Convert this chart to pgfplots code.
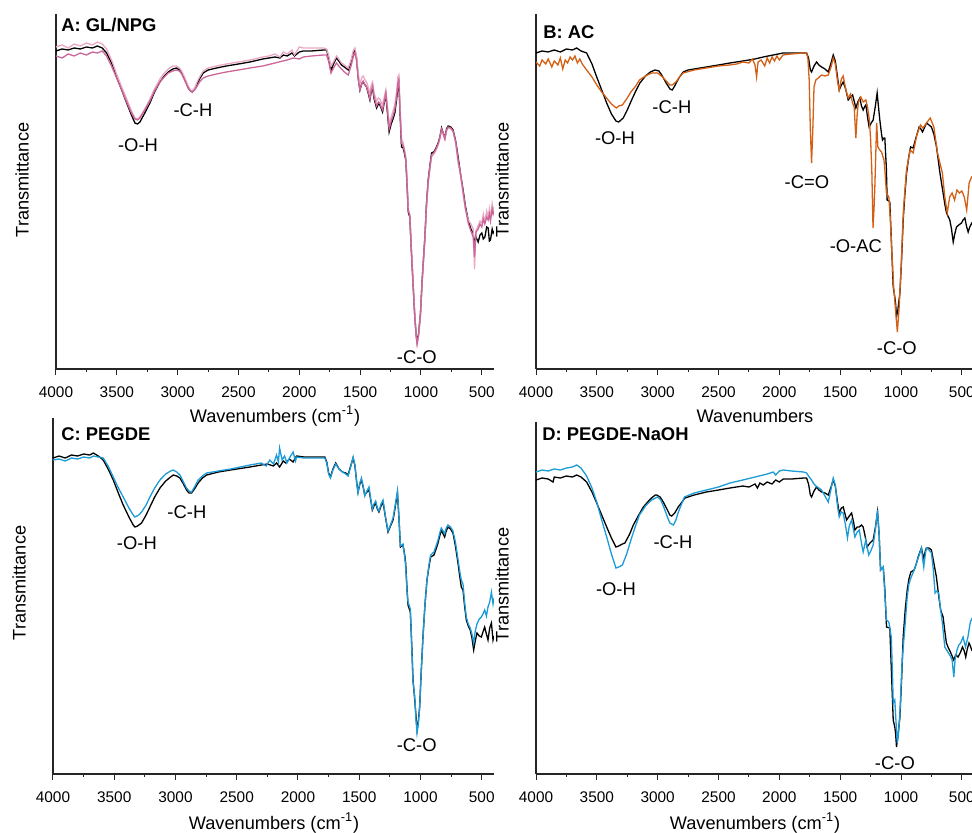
\documentclass[border=0pt]{standalone}
\usepackage{fontspec}
\setmainfont{Liberation Sans}
\usepackage{pgfplots}
\pgfplotsset{compat=1.18}

\definecolor{pinkA}{RGB}{204,102,153}
\definecolor{lpinkA}{RGB}{234,168,196}
\definecolor{orangeB}{RGB}{212,96,22}
\definecolor{blueC}{RGB}{27,155,215}

\tikzset{ann/.style={font=\fontsize{9.2}{10}\selectfont, inner sep=0pt}}
\pgfplotsset{
  ftir/.style={
    scale only axis,
    width=219pt, height=177.5pt,
    x dir=reverse, xmin=400, xmax=4000, ymin=0, ymax=355,
    axis x line=bottom, axis y line=left,
    axis line style={-, line width=0.6pt, black!85},
    ytick=\empty,
    xtick={500,1000,...,4000},
    minor xtick={750,1250,...,3750},
    tick align=outside,
    major tick length=3pt, minor tick length=1.6pt,
    tick style={black!85, line width=0.5pt},
    xticklabel style={font=\fontsize{7.7}{9}\selectfont, yshift=-2.2pt},
    /pgf/number format/assume math mode=true,
    /pgf/number format/1000 sep={},
    clip mode=individual,
    every axis plot/.append style={line width=0.65pt, mark=none},
  },
}

\begin{document}
\begin{tikzpicture}
% ---------------- A ----------------
\begin{axis}[ftir, at={(28pt,231.5pt)}, anchor=south west]
\addplot[black] coordinates {
(4000,318)(3950,320)(3900,319)(3850,321)(3800,320)(3750,322)(3700,321)(3660,323)(3620,321)(3584,316)(3540,305)(3502,292)(3460,279)(3419,266)(3380,254)(3351,246)(3330,245)(3310,247)(3270,256)(3228,266)(3190,277)(3146,287)(3110,293)(3077,297)(3040,300)(3010,301)(2985,299)(2967,296)(2940,289)(2913,281)(2895,278)(2880,277)(2860,280)(2844,284)(2820,290)(2790,296)(2750,299)(2680,301)(2600,303)(2500,305)(2406,307)(2300,310)(2250,311)(2200,312)(2160,311)(2132,314)(2100,313)(2060,316)(2040,313)(2000,317)(1968,318)(1900,318)(1800,319)(1776,319)(1760,312)(1740,300)(1735,299)(1720,305)(1694,311)(1670,307)(1653,304)(1630,302)(1598,299)(1575,307)(1555,317)(1543,319)(1530,311)(1515,290)(1502,279)(1485,286)(1475,287)(1460,284)(1447,282)(1430,274)(1420,269)(1408,278)(1398,281)(1385,270)(1365,261)(1350,265)(1338,264)(1325,260)(1316,257)(1300,268)(1289,274)(1275,255)(1262,237)(1245,245)(1230,250)(1215,256)(1200,270)(1190,282)(1182,286)(1172,255)(1160,222)(1146,221)(1135,215)(1125,209)(1115,185)(1105,157)(1092,152)(1080,120)(1064,82)(1051,52)(1040,35)(1032,27)(1020,35)(1004,56)(990,90)(968,132)(955,165)(941,189)(925,205)(913,216)(895,217)(880,220)(859,226)(845,232)(831,241)(818,236)(804,231)(790,240)(777,243)(755,242)(736,239)(715,228)(695,212)(675,195)(654,179)(635,163)(612,149)(590,140)(571,136)(560,125)(548,132)(530,127)(515,134)(500,136)(488,130)(475,132)(460,142)(448,141)(438,128)(429,129)(415,140)(407,136)(400,138)
};
\addplot[lpinkA] coordinates {
(4000,322)(3950,324)(3900,321)(3850,325)(3800,323)(3750,326)(3700,324)(3660,327)(3620,325)(3584,320)(3540,308)(3502,295)(3460,282)(3419,270)(3380,258)(3351,251)(3330,250)(3310,252)(3270,260)(3228,270)(3190,280)(3146,290)(3110,296)(3077,300)(3040,303)(3010,303)(2985,301)(2967,298)(2940,291)(2913,283)(2895,279)(2880,278)(2860,281)(2844,286)(2820,292)(2790,298)(2750,301)(2680,303)(2600,305)(2500,307)(2406,309)(2300,312)(2250,313)(2200,315)(2160,312)(2132,317)(2100,315)(2060,319)(2040,314)(2000,322)(1968,321)(1900,321)(1800,321)(1776,320)(1760,314)(1740,303)(1720,307)(1694,313)(1670,309)(1653,306)(1630,304)(1598,301)(1575,309)(1555,319)(1543,321)(1530,313)(1515,295)(1502,285)(1485,292)(1475,293)(1460,289)(1447,287)(1430,280)(1420,276)(1408,284)(1398,287)(1385,276)(1365,268)(1350,271)(1338,270)(1325,266)(1316,264)(1300,273)(1289,279)(1275,262)(1262,245)(1245,252)(1230,258)(1215,264)(1200,278)(1190,292)(1182,294)(1172,262)(1160,230)(1146,226)(1135,219)(1125,212)(1115,190)(1105,160)(1092,155)(1080,122)(1064,84)(1051,54)(1040,34)(1032,25)(1020,33)(1004,55)(990,88)(968,130)(955,162)(941,186)(925,202)(913,212)(895,215)(880,218)(859,224)(845,230)(831,239)(818,235)(804,230)(790,238)(777,241)(755,240)(736,237)(715,226)(695,206)(675,195)(654,175)(635,160)(612,149)(590,145)(571,140)(560,100)(548,138)(530,143)(515,148)(500,146)(488,155)(475,147)(460,158)(448,152)(438,160)(429,150)(415,165)(407,158)(400,162)
};
\addplot[pinkA] coordinates {
(4000,313)(3950,311)(3900,315)(3850,313)(3800,316)(3750,314)(3700,317)(3660,316)(3620,318)(3584,313)(3540,302)(3502,291)(3460,279)(3419,267)(3380,256)(3351,250)(3330,249)(3310,251)(3270,259)(3228,268)(3190,278)(3146,287)(3110,292)(3077,296)(3040,298)(3010,299)(2985,298)(2967,295)(2940,288)(2913,281)(2895,278)(2880,277)(2860,279)(2844,282)(2820,287)(2790,291)(2750,293)(2680,295)(2600,297)(2500,299)(2406,301)(2300,303)(2200,306)(2100,309)(2050,311)(2000,310)(1968,312)(1900,313)(1800,314)(1776,314)(1760,308)(1740,296)(1720,301)(1694,306)(1670,302)(1653,300)(1630,297)(1598,294)(1575,303)(1555,313)(1543,316)(1530,309)(1515,289)(1502,279)(1485,286)(1475,288)(1460,284)(1447,282)(1430,275)(1420,270)(1408,279)(1398,283)(1385,272)(1365,263)(1350,267)(1338,266)(1325,261)(1316,259)(1300,269)(1289,276)(1275,258)(1262,240)(1245,248)(1230,253)(1215,260)(1200,273)(1190,286)(1182,289)(1172,258)(1160,226)(1146,223)(1135,217)(1125,210)(1115,188)(1105,158)(1092,154)(1080,121)(1064,83)(1051,53)(1040,33)(1032,25)(1020,34)(1004,55)(990,89)(968,131)(955,163)(941,187)(925,203)(913,214)(895,216)(880,219)(859,225)(845,231)(831,240)(818,236)(804,230)(790,239)(777,242)(755,241)(736,238)(715,227)(695,209)(675,195)(654,177)(635,161)(612,146)(590,138)(571,132)(560,112)(548,137)(530,140)(515,145)(500,142)(488,150)(475,145)(460,152)(448,149)(438,155)(429,148)(415,160)(407,155)(400,158)
};
\node[ann] at (axis cs:3326,224) {-O-H};
\node[ann] at (axis cs:2874,259) {-C-H};
\node[ann] at (axis cs:1034,12) {-C-O};
\end{axis}

% ---------------- B ----------------
\begin{axis}[ftir, at={(268pt,231.5pt)}, anchor=south west]
\addplot[black] coordinates {
(4000,316)(3950,318)(3900,317)(3850,319)(3800,317)(3750,320)(3700,319)(3666,321)(3630,318)(3584,316)(3540,305)(3501,292)(3460,279)(3419,266)(3380,255)(3343,248)(3320,247)(3283,251)(3250,259)(3214,269)(3180,278)(3146,286)(3100,293)(3060,297)(3022,299)(2990,298)(2967,294)(2930,286)(2899,280)(2880,279)(2860,283)(2844,287)(2820,292)(2790,297)(2750,299)(2600,302)(2500,304)(2406,306)(2300,308)(2200,310)(2132,312)(2050,314)(1968,316)(1900,316)(1776,316)(1760,311)(1745,299)(1735,297)(1715,303)(1694,307)(1675,304)(1653,302)(1625,300)(1598,297)(1575,306)(1557,314)(1540,308)(1522,292)(1508,279)(1490,284)(1475,287)(1455,280)(1434,269)(1415,272)(1398,274)(1385,268)(1371,261)(1355,267)(1338,271)(1325,263)(1311,259)(1300,262)(1289,264)(1275,252)(1262,242)(1245,246)(1229,249)(1212,262)(1196,276)(1185,262)(1174,249)(1160,235)(1152,229)(1140,231)(1133,231)(1120,200)(1114,169)(1100,168)(1092,167)(1078,125)(1064,82)(1051,72)(1044,65)(1037,52)(1025,60)(1009,76)(995,110)(982,149)(968,175)(954,196)(935,213)(921,222)(900,221)(880,230)(851,242)(837,240)(823,237)(805,242)(790,246)(770,244)(750,242)(730,235)(708,222)(695,210)(680,196)(667,186)(654,176)(640,165)(626,156)(610,152)(599,149)(585,140)(571,127)(558,135)(544,142)(525,144)(503,146)(490,149)(475,151)(462,143)(448,137)(435,142)(418,146)(400,148)
};
\addplot[orangeB] coordinates {
(4000,307)(3970,303)(3950,309)(3920,305)(3900,310)(3870,302)(3850,308)(3820,304)(3800,311)(3780,300)(3760,309)(3740,306)(3720,312)(3700,309)(3680,313)(3660,306)(3640,310)(3620,305)(3584,299)(3540,292)(3500,284)(3460,277)(3420,271)(3380,265)(3340,261)(3320,263)(3290,264)(3250,271)(3220,277)(3180,283)(3150,289)(3100,293)(3050,296)(3000,296)(2960,292)(2930,288)(2900,284)(2880,284)(2850,287)(2820,292)(2790,296)(2700,299)(2600,301)(2500,303)(2406,304)(2350,305)(2300,307)(2250,306)(2220,310)(2200,304)(2187,292)(2175,307)(2150,309)(2120,303)(2100,311)(2080,306)(2060,312)(2040,308)(2020,313)(2000,309)(1970,314)(1900,315)(1800,316)(1776,316)(1765,310)(1755,290)(1745,239)(1735,206)(1725,239)(1715,282)(1700,289)(1680,291)(1653,294)(1625,293)(1598,294)(1575,302)(1557,311)(1540,305)(1522,288)(1508,279)(1490,290)(1475,293)(1455,280)(1434,271)(1415,275)(1398,266)(1385,262)(1371,231)(1360,255)(1350,267)(1330,272)(1310,267)(1289,269)(1275,262)(1260,249)(1250,230)(1240,199)(1230,141)(1222,160)(1215,182)(1205,225)(1200,246)(1190,222)(1175,219)(1160,217)(1140,209)(1130,195)(1120,176)(1100,172)(1088,150)(1075,116)(1060,82)(1045,59)(1030,37)(1015,62)(1000,99)(980,159)(955,199)(925,219)(900,216)(870,234)(840,244)(820,241)(790,246)(760,251)(730,242)(700,216)(680,206)(660,196)(640,172)(620,156)(600,172)(580,176)(560,169)(540,179)(520,176)(500,178)(480,172)(460,159)(440,186)(420,192)(400,190)
};
\node[ann] at (axis cs:3351,231) {-O-H};
\node[ann] at (axis cs:2883,262) {-C-H};
\node[ann] at (axis cs:1773,187) {-C=O};
\node[ann] at (axis cs:1371,123) {-O-AC};
\node[ann] at (axis cs:1034,21) {-C-O};
\end{axis}

% ---------------- C ----------------
\begin{axis}[ftir, at={(26.5pt,29pt)}, anchor=south west, width=220.5pt, height=178pt, ymax=356]
\addplot[black] coordinates {
(4000,316)(3950,318)(3900,316)(3850,319)(3800,318)(3750,320)(3700,319)(3671,321)(3630,318)(3590,314)(3550,305)(3508,294)(3470,282)(3427,269)(3380,257)(3345,249)(3331,247)(3310,248)(3277,251)(3240,259)(3209,267)(3170,277)(3127,286)(3080,293)(3040,297)(3018,299)(2990,298)(2964,296)(2935,290)(2910,284)(2890,281)(2869,281)(2845,285)(2815,291)(2780,296)(2746,299)(2650,302)(2550,304)(2393,307)(2300,309)(2250,310)(2200,308)(2175,311)(2150,307)(2120,313)(2100,311)(2070,315)(2040,312)(2012,318)(1950,317)(1850,317)(1781,317)(1765,312)(1750,301)(1735,297)(1715,305)(1692,311)(1665,305)(1637,302)(1610,301)(1591,299)(1570,308)(1550,316)(1535,308)(1520,291)(1510,282)(1495,290)(1482,294)(1468,287)(1455,279)(1438,282)(1420,284)(1405,273)(1393,264)(1380,268)(1366,271)(1352,265)(1339,262)(1322,268)(1306,272)(1285,256)(1265,242)(1245,248)(1224,254)(1205,268)(1188,281)(1176,256)(1164,227)(1143,229)(1130,220)(1121,211)(1110,185)(1102,169)(1083,162)(1070,125)(1061,94)(1047,74)(1038,60)(1028,44)(1018,52)(1007,67)(995,100)(980,137)(963,170)(947,194)(930,208)(917,217)(890,219)(870,226)(857,231)(843,238)(830,244)(815,240)(803,237)(790,243)(776,247)(755,245)(735,241)(715,228)(694,211)(680,198)(667,187)(653,184)(640,168)(626,154)(610,148)(594,144)(580,136)(566,124)(553,133)(539,141)(520,138)(503,137)(490,142)(476,147)(462,140)(449,134)(435,146)(421,151)(408,134)(400,138)
};
\addplot[blueC] coordinates {
(4000,314)(3950,315)(3900,313)(3850,316)(3800,315)(3750,317)(3700,316)(3670,318)(3630,317)(3590,316)(3550,308)(3508,297)(3470,287)(3427,277)(3380,266)(3345,259)(3331,257)(3300,259)(3277,262)(3240,269)(3209,277)(3170,286)(3127,294)(3080,300)(3040,303)(3018,304)(2990,302)(2964,299)(2935,292)(2910,286)(2890,283)(2869,282)(2845,287)(2815,294)(2780,298)(2746,301)(2650,303)(2550,305)(2393,309)(2300,311)(2260,308)(2230,314)(2200,310)(2175,319)(2160,312)(2150,326)(2130,314)(2110,318)(2090,311)(2070,316)(2040,322)(2020,313)(2012,317)(1950,316)(1850,316)(1781,316)(1765,311)(1750,300)(1735,296)(1715,304)(1692,310)(1665,305)(1637,302)(1610,300)(1591,298)(1570,307)(1550,317)(1535,309)(1520,290)(1510,281)(1495,291)(1482,296)(1468,288)(1455,278)(1438,283)(1420,287)(1405,274)(1393,265)(1380,270)(1366,273)(1352,266)(1339,263)(1322,270)(1306,274)(1285,257)(1265,243)(1245,249)(1224,256)(1205,270)(1188,283)(1176,257)(1164,228)(1143,230)(1130,218)(1121,208)(1110,183)(1102,172)(1083,165)(1070,123)(1061,92)(1047,78)(1038,56)(1028,41)(1018,50)(1007,66)(995,99)(980,136)(963,170)(947,194)(930,210)(917,219)(890,222)(870,229)(857,234)(843,241)(830,246)(815,243)(803,240)(790,246)(776,249)(755,247)(735,243)(715,232)(694,215)(680,203)(667,194)(653,190)(640,172)(626,157)(610,150)(594,146)(580,140)(566,131)(553,143)(539,150)(520,155)(503,157)(490,160)(476,164)(462,158)(449,167)(435,172)(421,182)(408,170)(400,176)
};
\node[ann] at (axis cs:3315,231) {-O-H};
\node[ann] at (axis cs:2907,262) {-C-H};
\node[ann] at (axis cs:1031,29) {-C-O};
\end{axis}

% ---------------- D ----------------
\begin{axis}[ftir, at={(268pt,29pt)}, anchor=south west, height=176pt, ymax=352]
\addplot[black] coordinates {
(4000,294)(3950,296)(3900,295)(3860,292)(3850,297)(3800,296)(3750,298)(3700,297)(3666,299)(3630,297)(3584,292)(3540,282)(3501,271)(3460,259)(3419,247)(3380,236)(3343,227)(3320,228)(3290,230)(3269,231)(3230,240)(3200,249)(3160,258)(3118,267)(3060,275)(3020,279)(3008,279)(2980,277)(2954,272)(2920,264)(2900,259)(2885,258)(2860,261)(2831,267)(2800,272)(2776,276)(2700,279)(2600,282)(2500,284)(2406,286)(2300,288)(2250,287)(2200,290)(2180,286)(2160,291)(2132,289)(2100,292)(2060,290)(2030,294)(2000,292)(1968,295)(1900,295)(1800,296)(1776,296)(1760,290)(1745,279)(1735,277)(1715,283)(1694,287)(1675,284)(1653,282)(1625,281)(1598,279)(1575,287)(1557,294)(1540,288)(1522,272)(1508,261)(1490,266)(1475,267)(1460,260)(1447,254)(1425,258)(1406,261)(1390,252)(1379,244)(1360,247)(1343,247)(1325,249)(1311,247)(1295,238)(1279,227)(1255,231)(1229,234)(1210,247)(1193,262)(1180,240)(1168,204)(1146,207)(1133,185)(1119,147)(1092,146)(1078,100)(1064,54)(1051,47)(1044,40)(1037,27)(1025,38)(1009,57)(995,95)(982,137)(965,165)(949,184)(935,195)(919,202)(892,204)(875,210)(859,217)(845,222)(832,226)(822,220)(813,216)(800,223)(791,226)(770,226)(750,224)(730,211)(709,197)(690,178)(674,164)(654,157)(640,143)(627,131)(610,126)(594,122)(580,118)(567,114)(550,119)(531,117)(510,122)(495,127)(480,123)(468,117)(455,125)(441,131)(430,128)(419,124)(400,126)
};
\addplot[blueC] coordinates {
(4000,302)(3950,304)(3900,303)(3850,305)(3800,304)(3750,306)(3700,307)(3666,309)(3630,306)(3584,298)(3540,286)(3501,272)(3460,254)(3419,237)(3380,220)(3343,206)(3320,207)(3290,209)(3255,220)(3220,234)(3185,247)(3150,259)(3100,268)(3050,274)(3000,277)(2975,274)(2950,267)(2920,257)(2900,251)(2870,249)(2850,254)(2830,262)(2800,271)(2780,277)(2700,281)(2600,284)(2500,287)(2406,291)(2300,294)(2200,297)(2132,299)(2100,300)(2050,302)(2030,299)(2000,303)(1968,304)(1900,303)(1800,302)(1776,301)(1760,298)(1735,294)(1715,290)(1700,288)(1675,286)(1653,284)(1625,278)(1598,272)(1575,285)(1557,296)(1540,289)(1522,268)(1508,257)(1490,262)(1475,261)(1455,248)(1440,236)(1425,248)(1406,254)(1390,244)(1379,237)(1360,242)(1343,244)(1325,231)(1311,222)(1300,228)(1290,234)(1275,225)(1265,219)(1245,224)(1229,229)(1210,245)(1193,264)(1180,240)(1168,204)(1146,207)(1133,180)(1119,154)(1100,152)(1080,137)(1070,100)(1064,71)(1051,74)(1040,50)(1030,31)(1020,42)(1009,61)(990,114)(970,144)(949,177)(935,190)(919,196)(892,204)(875,210)(859,216)(845,221)(832,226)(822,215)(813,207)(800,220)(791,226)(770,224)(750,221)(735,205)(720,181)(705,183)(690,181)(675,165)(660,151)(640,127)(625,124)(610,121)(595,118)(580,114)(566,97)(555,115)(540,124)(525,129)(510,131)(490,137)(470,127)(450,137)(430,152)(410,157)(400,160)
};
\node[ann] at (axis cs:3343,185) {-O-H};
\node[ann] at (axis cs:2874,232) {-C-H};
\node[ann] at (axis cs:1050,11) {-C-O};
\end{axis}

% ---------------- texts ----------------
\begin{scope}[x=0.5pt,y=0.5pt]
\tikzset{ttl/.style={font=\fontsize{9.2}{10}\selectfont\bfseries, inner sep=0pt, anchor=west},
         lab/.style={font=\fontsize{9.1}{10}\selectfont, inner sep=0pt}}
\node[ttl] at (61,807) {A: GL/NPG};
\node[ttl] at (543,800) {B: AC};
\node[ttl] at (61,398) {C: PEGDE};
\node[ttl] at (542,398) {D: PEGDE-NaOH};
\node[lab, rotate=90] at (22,652) {Transmittance};
\node[lab, rotate=90] at (502,652) {Transmittance};
\node[lab, rotate=90] at (19,249) {Transmittance};
\node[lab, rotate=90] at (502,247) {Transmittance};
\node[lab] at (275,416) {Wavenumbers (cm\textsuperscript{-1})};
\node[lab] at (755,416) {Wavenumbers};
\node[lab] at (274,9) {Wavenumbers (cm\textsuperscript{-1})};
\node[lab] at (755,9) {Wavenumbers (cm\textsuperscript{-1})};
\end{scope}

\pgfresetboundingbox
\path[use as bounding box] (0,0) rectangle (486pt,416pt);
\end{tikzpicture}
\end{document}
